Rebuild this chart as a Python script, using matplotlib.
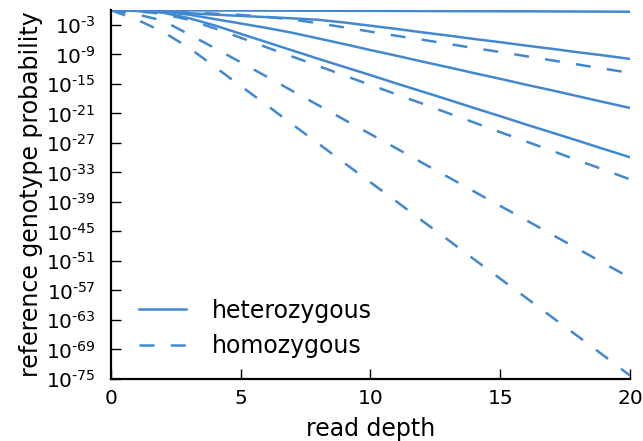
import matplotlib
matplotlib.use("Agg")
import matplotlib.pyplot as plt
import numpy as np

# read depth 0..20 and log10 of the reference genotype probability
depth = list(range(21))

het_1 = [0, -0.01, -0.02, -0.03, -0.05, -0.06, -0.08, -0.09, -0.1, -0.12, -0.13,
         -0.15, -0.16, -0.18, -0.19, -0.21, -0.22, -0.24, -0.26, -0.28, -0.3]
het_2 = [0, -0.15, -0.35, -0.6, -0.9, -1.15, -1.4, -1.65, -1.95, -2.5, -3.15,
         -3.8, -4.5, -5.15, -5.85, -6.5, -7.2, -7.85, -8.55, -9.2, -9.9]
het_3 = [0, -0.1, -0.3, -0.9, -1.8, -2.7, -3.6, -4.6, -5.75, -6.9, -8.1,
         -9.25, -10.45, -11.6, -12.8, -13.95, -15.15, -16.3, -17.5, -18.7, -19.87]
het_4 = [0, -0.1, -0.5, -1.6, -3.1, -4.8, -6.5, -8.2, -9.9, -11.55, -13.2,
         -14.9, -16.55, -18.2, -19.9, -21.55, -23.25, -24.9, -26.55, -28.25, -29.9]

hom_1 = [0, -0.1, -0.25, -0.45, -0.7, -0.95, -1.35, -1.9, -2.65, -3.5, -4.35,
         -5.2, -6.0, -6.85, -7.7, -8.5, -9.35, -10.2, -11.05, -11.9, -12.75]
hom_2 = [0, -0.2, -0.75, -1.95, -3.7, -5.6, -7.55, -9.45, -11.35, -13.3, -15.2,
         -17.1, -19.0, -20.95, -22.85, -24.8, -26.7, -28.6, -30.55, -32.45, -34.4]
hom_3 = [0, -0.85, -2.1, -4.9, -7.7, -10.6, -13.5, -16.45, -19.35, -22.3, -25.2,
         -28.1, -31.05, -33.95, -36.9, -39.8, -42.7, -45.65, -48.55, -51.5, -54.4]
hom_4 = [0, -1.9, -4.4, -7.6, -11.5, -15.4, -19.3, -23.25, -27.15, -31.1, -35.0,
         -38.9, -42.85, -46.75, -50.7, -54.6, -58.5, -62.45, -66.35, -70.3, -74.3]

het_lines = [het_1, het_2, het_3, het_4]
hom_lines = [hom_1, hom_2, hom_3, hom_4]

ytick_exp = list(range(-75, 0, 6))
xticks = [0, 5, 10, 15, 20]

color = '#4288d0'
plt.rcParams['font.family'] = ['DejaVu Sans']
plt.rcParams['mathtext.default'] = 'regular'

fig = plt.figure(figsize=(6.43, 4.41), dpi=100)
ax = fig.add_axes([0.1726, 0.1406, 0.8072, 0.8362])

for i, vals in enumerate(het_lines):
    ax.plot(depth, 10.0 ** np.array(vals), color=color, lw=1.8,
            label='heterozygous' if i == 0 else None)
for i, vals in enumerate(hom_lines):
    ax.plot(depth, 10.0 ** np.array(vals), color=color, lw=1.8, ls=(0, (6, 6.5)),
            label='homozygous' if i == 0 else None)

ax.set_yscale('log')
ax.set_xlim(0, 20)
ax.set_ylim(1e-75, 1)
ax.set_xticks(xticks)
ax.set_yticks([10.0 ** e for e in ytick_exp])
ax.set_yticklabels(['$10^{\\text{-}%d}$' % abs(e) for e in ytick_exp])
ax.minorticks_off()

for s in ['top', 'right']:
    ax.spines[s].set_visible(False)
for s in ['left', 'bottom']:
    ax.spines[s].set_linewidth(1.6)
ax.tick_params(direction='in', length=7.5, width=1.0, labelsize=14.5, pad=7)
ax.tick_params(axis='y', pad=11)

ax.set_xlabel('read depth', fontsize=17, labelpad=7)
ax.set_ylabel('reference genotype probability', fontsize=17, labelpad=2)

ax.legend(loc='lower left', bbox_to_anchor=(0.035, 0.03), frameon=False,
          fontsize=17, handlelength=2.0, handletextpad=1.1, labelspacing=0.5,
          borderaxespad=0)

fig.savefig('out.png', dpi=100)
